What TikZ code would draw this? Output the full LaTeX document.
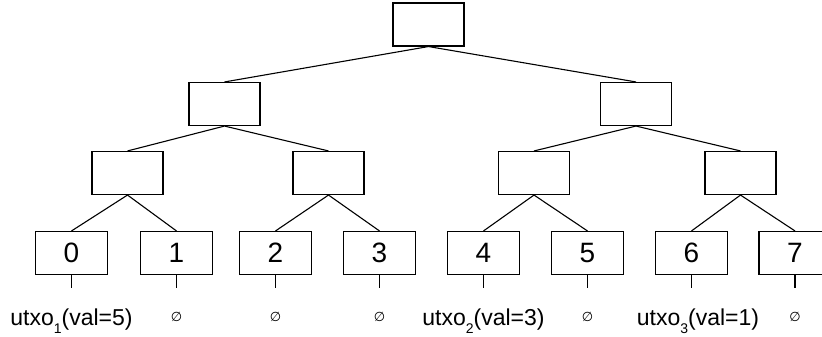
\documentclass[tikz,border=0pt]{standalone}
\usepackage{fontspec}
\setmainfont{Liberation Sans}
\newfontfamily\symfont{DejaVu Sans}
\newcommand\mysub[1]{\raisebox{-8pt}{\fontsize{14}{14}\selectfont #1}}
\begin{document}
\begin{tikzpicture}[x=1pt,y=-1pt,
  box/.style={draw, line width=1.1pt, minimum width=71pt, minimum height=43pt, inner sep=0pt},
  leaf/.style={box, minimum width=72pt, font=\fontsize{28}{28}\selectfont},
  edge/.style={line width=1.1pt},
  lbl/.style={anchor=base, inner sep=0pt, font=\fontsize{23}{23}\selectfont},
  empt/.style={inner sep=0pt, font=\symfont\fontsize{13}{13}\selectfont}]
\useasboundingbox (0,0) rectangle (822,337);
\clip (0,0) rectangle (822,337);
% root
\node[box] (r) at (428.5,24.5) {};
% level 1
\node[box] (a) at (224.5,104) {};
\node[box] (b) at (636,104) {};
% level 2
\node[box] (aa) at (127.5,173) {};
\node[box] (ab) at (328.5,173) {};
\node[box] (ba) at (534,173) {};
\node[box] (bb) at (740.5,173) {};
% leaves
\node[leaf] (l0) at (71.5,253) {0};
\node[leaf] (l1) at (176.5,253) {1};
\node[leaf] (l2) at (275.5,253) {2};
\node[leaf] (l3) at (379.5,253) {3};
\node[leaf] (l4) at (483.5,253) {4};
\node[leaf] (l5) at (587.5,253) {5};
\node[leaf] (l6) at (691.5,253) {6};
\node[leaf] (l7) at (795,253) {7};
% tree edges
\draw[edge] (r.south) -- (a.north);
\draw[edge] (r.south) -- (b.north);
\draw[edge] (a.south) -- (aa.north);
\draw[edge] (a.south) -- (ab.north);
\draw[edge] (b.south) -- (ba.north);
\draw[edge] (b.south) -- (bb.north);
\draw[edge] (aa.south) -- (l0.north);
\draw[edge] (aa.south) -- (l1.north);
\draw[edge] (ab.south) -- (l2.north);
\draw[edge] (ab.south) -- (l3.north);
\draw[edge] (ba.south) -- (l4.north);
\draw[edge] (ba.south) -- (l5.north);
\draw[edge] (bb.south) -- (l6.north);
\draw[edge] (bb.south) -- (l7.north);
% stubs
\foreach \i/\x in {0/71.5,1/176.5,2/275.5,3/379.5,4/483.5,5/587.5,6/691.5,7/795}{
  \coordinate (s\i) at (\x,288);
  \draw[edge] (l\i.south) -- (s\i);
}
% labels
\node[lbl] (t0) at (71.5,325) {utxo\mysub{1}(val=5)};
\node[empt] (t1) at (176.5,316.5) {∅};
\node[empt] (t2) at (275.5,316.5) {∅};
\node[empt] (t3) at (379.5,316.5) {∅};
\node[lbl] (t4) at (483.5,325) {utxo\mysub{2}(val=3)};
\node[empt] (t5) at (587.5,316.5) {∅};
\node[lbl] (t6) at (698,325) {utxo\mysub{3}(val=1)};
\node[empt] (t7) at (795,316.5) {∅};
\end{tikzpicture}
\end{document}
